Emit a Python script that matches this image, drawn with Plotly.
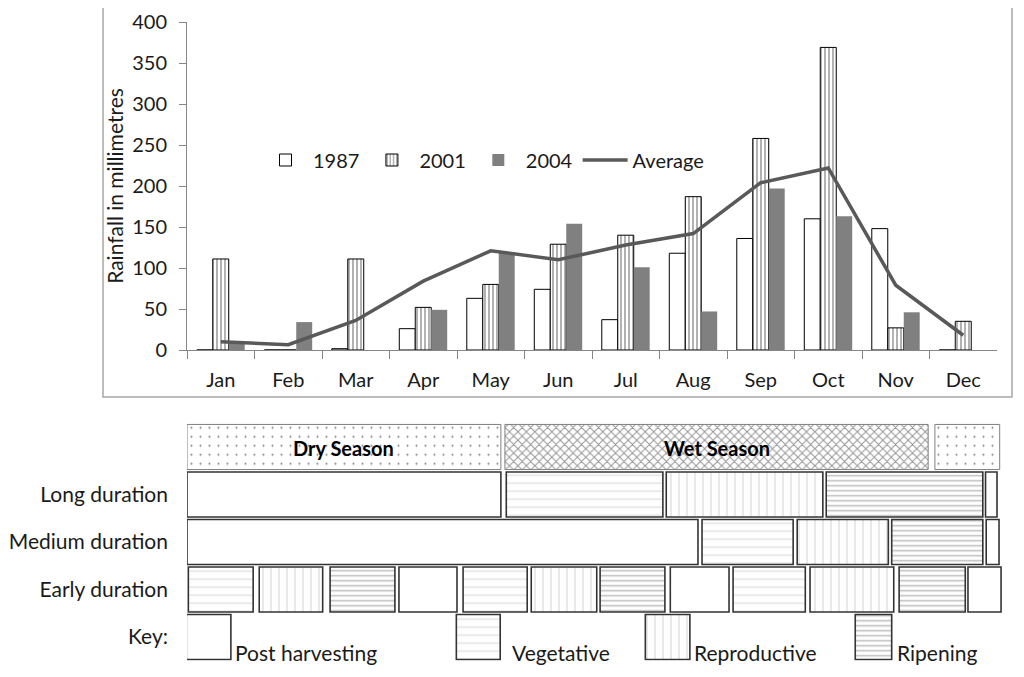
import plotly.graph_objects as go

# ---------------- data ----------------
months = ["Jan", "Feb", "Mar", "Apr", "May", "Jun", "Jul", "Aug", "Sep", "Oct", "Nov", "Dec"]
rain_1987 = [0, 0, 1.6, 26, 63, 74, 37, 118, 136, 160, 148, 0]
rain_2001 = [111, 0, 111, 52, 80, 129, 140, 187, 258, 369, 27, 35]
rain_2004 = [11, 34, 0, 49, 119, 154, 101, 47, 197, 163, 46, 0]
rain_avg = [10, 6.5, 36, 84, 121, 110, 128, 142, 204, 222, 79, 18]

season_names = ["Dry", "Wet", "Dry"]
season_text = ["Dry Season", "Wet Season", ""]
season_start = [0.0, 4.71, 11.08]
season_end = [4.65, 10.98, 12.04]

row_labels = ["Long duration", "Medium duration", "Early duration", "Key:"]

long_stages = ["Post harvesting", "Vegetative", "Reproductive", "Ripening", "Post harvesting"]
long_start = [0.0, 4.73, 7.10, 9.47, 11.83]
long_end = [4.65, 7.05, 9.42, 11.79, 12.00]

medium_stages = ["Post harvesting", "Vegetative", "Reproductive", "Ripening", "Post harvesting"]
medium_start = [0.0, 7.63, 9.04, 10.44, 11.84]
medium_end = [7.57, 8.98, 10.39, 11.79, 12.03]

early_stages = ["Vegetative", "Reproductive", "Ripening", "Post harvesting"] * 3
early_start = [0.02, 1.07, 2.12, 3.14, 4.09, 5.10, 6.12, 7.16, 8.09, 9.23, 10.55, 11.57]
early_end = [0.98, 2.01, 3.08, 4.00, 5.04, 6.07, 7.08, 8.03, 9.16, 10.47, 11.53, 12.06]

key_labels = ["Post harvesting", "Vegetative", "Reproductive", "Ripening"]

# ---------------- layout constants (pixels in the 1024x677 window) ----------------
OFF = 8                      # default page margin of the html body
W, H = 1024 - 2 * OFF, 677 - 2 * OFF
X0, X1 = 187, 997            # top plot area x
YTOP, YBOT = 22, 350         # top plot area y
MONTH_PX = (X1 - X0) / 12.0
X2_END = 12.1
ROW_PX = 47.5
ROW0_C = 447
BOX_H = 0.95                 # box height in row units

def px(x):
    return (x - OFF) / W

def py(y):
    return (H - (y - OFF)) / H

FONT = "Lato"
TXT = "#1a1a1a"

STAGE_STYLE = {
    "Post harvesting": dict(shape="", fg="#000000", size=8, sol=0.1),
    "Vegetative": dict(shape="-", fg="#a8a8a8", size=8, sol=0.12),
    "Reproductive": dict(shape="|", fg="#a0a0a0", size=8, sol=0.12),
    "Ripening": dict(shape="-", fg="#7a7a7a", size=5, sol=0.3),
}
SEASON_STYLE = {
    "Dry": dict(shape=".", fg="#000000", size=9, sol=0.04),
    "Wet": dict(shape="x", fg="#2a2a2a", size=6, sol=0.3),
}
KEY_BOX = {  # left, right in month units on the lower axis
    "Post harvesting": (-0.01, 0.65),
    "Vegetative": (3.99, 4.64),
    "Reproductive": (6.79, 7.45),
    "Ripening": (9.90, 10.44),
}
KEY_TEXT_X = {"Post harvesting": 0.68, "Vegetative": 4.79, "Reproductive": 7.48, "Ripening": 10.49}

fig = go.Figure()

# ---------------- top chart ----------------
fig.add_trace(go.Bar(x=months, y=rain_1987, name="1987",
                     marker=dict(color="white", line=dict(color="#000000", width=1))))
fig.add_trace(go.Bar(x=months, y=rain_2001, name="2001",
                     marker=dict(color="white", line=dict(color="#000000", width=1),
                                 pattern=dict(shape="|", fgcolor="#000000", bgcolor="white",
                                              size=4, solidity=0.3))))
fig.add_trace(go.Bar(x=months, y=rain_2004, name="2004",
                     marker=dict(color="#808080", line=dict(width=0))))
fig.add_trace(go.Scatter(x=months, y=rain_avg, name="Average", mode="lines",
                         line=dict(color="#595959", width=3.5)))

# ---------------- lower panel ----------------
def add_segments(row, stages, starts, ends, line_color, line_width):
    groups = {}
    for s, a, b in zip(stages, starts, ends):
        groups.setdefault(s, []).append((a, b))
    for s, segs in groups.items():
        st = STAGE_STYLE[s]
        fig.add_trace(go.Bar(
            orientation="h", xaxis="x2", yaxis="y2",
            y=[row] * len(segs), base=[a for a, b in segs], x=[b - a for a, b in segs],
            width=BOX_H, offset=-BOX_H / 2, showlegend=False, hoverinfo="skip",
            marker=dict(color="white", line=dict(color=line_color, width=line_width),
                        pattern=dict(shape=st["shape"], fgcolor=st["fg"], bgcolor="white",
                                     size=st["size"], solidity=st["sol"])),
        ))

annotations = []

# season row
for sname in ["Dry", "Wet"]:
    idx = [i for i, n in enumerate(season_names) if n == sname]
    st = SEASON_STYLE[sname]
    fig.add_trace(go.Bar(
        orientation="h", xaxis="x2", yaxis="y2",
        y=[0] * len(idx), base=[season_start[i] for i in idx],
        x=[season_end[i] - season_start[i] for i in idx],
        width=BOX_H, offset=-BOX_H / 2, showlegend=False, hoverinfo="skip",
        marker=dict(color="white", line=dict(color="#7f7f7f", width=1),
                    pattern=dict(shape=st["shape"], fgcolor=st["fg"], bgcolor="white",
                                 size=st["size"], solidity=st["sol"])),
    ))
for i, t in enumerate(season_text):
    if t:
        annotations.append(dict(xref="x2", yref="y2", x=(season_start[i] + season_end[i]) / 2,
                                y=0.03, text="<b>" + t + "</b>", showarrow=False,
                                xanchor="center", yanchor="middle",
                                font=dict(family=FONT, size=20, color="#000000")))

add_segments(1, long_stages, long_start, long_end, "#333333", 1.6)
add_segments(2, medium_stages, medium_start, medium_end, "#333333", 1.6)
add_segments(3, early_stages, early_start, early_end, "#333333", 1.6)

# key boxes
for lab in key_labels:
    a, b = KEY_BOX[lab]
    add_segments(4, [lab], [a], [b], "#333333", 1.6)

for lab in key_labels:
    annotations.append(dict(xref="x2", yref="y2", x=KEY_TEXT_X[lab], y=4.33, text=lab,
                            showarrow=False, xanchor="left", yanchor="middle",
                            font=dict(family=FONT, size=21, color=TXT)))

shapes = [dict(type="rect", xref="paper", yref="paper",
               x0=px(103), x1=px(1012), y0=py(397), y1=py(5),
               line=dict(color="#a6a6a6", width=1.5), fillcolor="rgba(0,0,0,0)", layer="below")]

fig.update_layout(
    width=W, height=H,
    margin=dict(l=0, r=0, t=0, b=0),
    paper_bgcolor="white", plot_bgcolor="rgba(0,0,0,0)",
    font=dict(family=FONT, size=20, color=TXT),
    barmode="group", bargap=0.29, bargroupgap=0,
    showlegend=True,
    legend=dict(orientation="h", x=px(258), y=py(160), xanchor="left", yanchor="middle",
                bgcolor="rgba(0,0,0,0)", font=dict(family=FONT, size=20, color=TXT),
                itemwidth=45, traceorder="normal"),
    xaxis=dict(domain=[px(X0), px(X1)], anchor="y", type="category",
               showline=True, linecolor="#868686", linewidth=1,
               ticks="outside", tickson="boundaries", ticklen=8, tickcolor="#868686",
               ticklabelstandoff=12, tickfont=dict(family=FONT, size=20, color=TXT),
               showgrid=False, zeroline=False, fixedrange=True),
    yaxis=dict(domain=[py(YBOT), py(YTOP)], anchor="x", range=[0, 400], dtick=50,
               showline=True, linecolor="#868686", linewidth=1,
               ticks="outside", ticklen=7, tickcolor="#868686", ticklabelstandoff=8,
               tickfont=dict(family=FONT, size=20, color=TXT),
               showgrid=False, zeroline=False, automargin=False,
               title=dict(text="Rainfall in millimetres", standoff=2,
                          font=dict(family=FONT, size=21, color=TXT))),
    xaxis2=dict(domain=[px(X0), px(X0 + X2_END * MONTH_PX)], anchor="y2", range=[0, X2_END],
                visible=False, fixedrange=True),
    yaxis2=dict(domain=[py(ROW0_C + 4.5 * ROW_PX), py(ROW0_C - 0.5 * ROW_PX)], anchor="x2",
                range=[4.5, -0.5], tickvals=[1, 2, 3, 4], ticktext=row_labels,
                showline=False, showgrid=False, zeroline=False, ticks="", ticklabelstandoff=18,
                tickfont=dict(family=FONT, size=21, color=TXT), automargin=False),
    annotations=annotations,
    shapes=shapes,
)

fig.write_html("out.html")
